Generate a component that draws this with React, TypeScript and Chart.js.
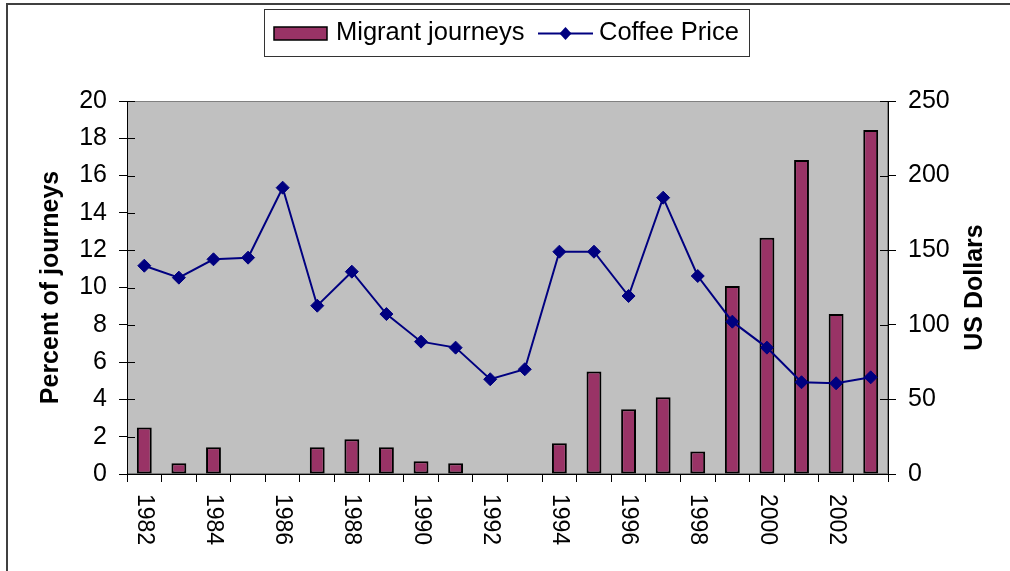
import React, { useEffect, useRef } from "react";
import { Chart, registerables } from "chart.js";

Chart.register(...registerables);

const years = ["1982","1983","1984","1985","1986","1987","1988","1989","1990","1991","1992","1993","1994","1995","1996","1997","1998","1999","2000","2001","2002","2003"];
const xTickLabels = ["1982","","1984","","1986","","1988","","1990","","1992","","1994","","1996","","1998","","2000","","2002",""];
const migrantJourneys = [2.5,0.57,1.43,null,null,1.43,1.86,1.43,0.68,0.57,null,null,1.65,5.49,3.47,4.11,1.2,10.08,12.67,16.84,8.58,18.45];
const coffeePrice = [139.6,131.6,143.9,145,191.9,112.8,135.6,107.2,88.7,84.7,63.5,70.2,149,149,119.3,185.2,132.7,102.1,84.7,61.5,60.8,64.8];
const leftTitle = "Percent of journeys";
const rightTitle = "US Dollars";

const FONT = "'Liberation Sans', Arial, Helvetica, sans-serif";
const BAR_COLOR = "#993366";
const LINE_COLOR = "#000080";

const decorPlugin = {
  id: "decor",
  beforeDraw(chart: any) {
    const { ctx, chartArea } = chart;
    const { left, top, right, bottom } = chartArea;
    ctx.save();
    ctx.strokeStyle = "#404040";
    ctx.lineWidth = 2;
    ctx.beginPath();
    ctx.moveTo(7, 700);
    ctx.lineTo(7, 4);
    ctx.lineTo(1100, 4);
    ctx.stroke();
    ctx.fillStyle = "#C0C0C0";
    ctx.fillRect(left, top, right - left, bottom - top);
    ctx.strokeStyle = "#808080";
    ctx.lineWidth = 1;
    ctx.strokeRect(left + 0.5, top + 0.5, right - left - 1, bottom - top - 1);
    ctx.restore();
  },
  beforeDatasetsDraw(chart: any) {
    const { ctx, scales } = chart;
    ctx.save();
    ctx.strokeStyle = "#000";
    ctx.lineWidth = 1;
    const ys = scales.y;
    ys.ticks.forEach((t: any) => {
      const py = Math.round(ys.getPixelForValue(t.value)) + 0.5;
      ctx.beginPath();
      ctx.moveTo(ys.right, py);
      ctx.lineTo(ys.right + 8, py);
      ctx.stroke();
    });
    const y1 = scales.y1;
    y1.ticks.forEach((t: any) => {
      const py = Math.round(y1.getPixelForValue(t.value)) + 0.5;
      ctx.beginPath();
      ctx.moveTo(y1.left - 8, py);
      ctx.lineTo(y1.left, py);
      ctx.stroke();
    });
    ctx.restore();
  },
  afterDraw(chart: any) {
    const { ctx, scales, chartArea } = chart;
    ctx.save();
    const xs = scales.x;
    ctx.fillStyle = "#000";
    ctx.font = `23px ${FONT}`;
    ctx.textAlign = "left";
    ctx.textBaseline = "middle";
    xTickLabels.forEach((lab, i) => {
      if (!lab) return;
      const px = xs.getPixelForValue(i);
      ctx.save();
      ctx.translate(px, chartArea.bottom + 20);
      ctx.rotate(Math.PI / 2);
      ctx.fillText(lab, 0, 0);
      ctx.restore();
    });
    const cy = (chartArea.top + chartArea.bottom) / 2;
    ctx.font = `bold 25px ${FONT}`;
    ctx.textAlign = "center";
    ctx.textBaseline = "middle";
    ctx.save();
    ctx.translate(51, cy);
    ctx.rotate(-Math.PI / 2);
    ctx.fillText(leftTitle, 0, 0);
    ctx.restore();
    ctx.save();
    ctx.translate(975, cy);
    ctx.rotate(-Math.PI / 2);
    ctx.fillText(rightTitle, 0, 0);
    ctx.restore();
    const ds = chart.data.datasets;
    ctx.strokeStyle = "#333";
    ctx.lineWidth = 1;
    ctx.strokeRect(264.5, 9.5, 485, 47);
    ctx.fillStyle = BAR_COLOR;
    ctx.fillRect(274, 27, 53, 13);
    ctx.strokeStyle = "#000";
    ctx.lineWidth = 1.5;
    ctx.strokeRect(274, 27, 53, 13);
    ctx.fillStyle = "#000";
    ctx.font = `25.5px ${FONT}`;
    ctx.textAlign = "left";
    ctx.textBaseline = "middle";
    ctx.fillText(ds[0].label, 336, 33);
    ctx.strokeStyle = LINE_COLOR;
    ctx.lineWidth = 2;
    ctx.beginPath();
    ctx.moveTo(538, 33.5);
    ctx.lineTo(593, 33.5);
    ctx.stroke();
    ctx.fillStyle = LINE_COLOR;
    ctx.beginPath();
    ctx.moveTo(565.5, 27);
    ctx.lineTo(571.5, 33.5);
    ctx.lineTo(565.5, 40);
    ctx.lineTo(559.5, 33.5);
    ctx.closePath();
    ctx.fill();
    ctx.fillStyle = "#000";
    ctx.fillText(ds[1].label, 599, 33);
    ctx.restore();
  },
};

export default function App() {
  const ref = useRef<HTMLCanvasElement | null>(null);
  useEffect(() => {
    if (!ref.current) return;
    Chart.defaults.font.family = FONT;
    const chart = new Chart(ref.current, {
      type: "bar",
      data: {
        labels: years,
        datasets: [
          {
            type: "bar",
            label: "Migrant journeys",
            data: migrantJourneys as any,
            backgroundColor: BAR_COLOR,
            borderColor: "#000",
            borderWidth: 2,
            borderSkipped: false,
            categoryPercentage: 1,
            barPercentage: 0.43,
            yAxisID: "y",
            order: 2,
          },
          {
            type: "line",
            label: "Coffee Price",
            data: coffeePrice,
            borderColor: LINE_COLOR,
            backgroundColor: LINE_COLOR,
            borderWidth: 2,
            pointStyle: "rectRot",
            pointRadius: 6.5,
            pointBorderWidth: 1,
            pointBackgroundColor: LINE_COLOR,
            pointBorderColor: LINE_COLOR,
            tension: 0,
            yAxisID: "y1",
            order: 1,
          } as any,
        ],
      },
      options: {
        animation: false,
        responsive: false,
        layout: { padding: { top: 101, left: 0, right: 0, bottom: 0 } },
        plugins: {
          legend: { display: false },
          tooltip: { enabled: false },
        },
        scales: {
          x: {
            type: "category",
            offset: true,
            grid: {
              offset: true,
              display: true,
              drawOnChartArea: false,
              drawTicks: true,
              tickLength: 8,
              color: "#000",
            },
            border: { display: true, color: "#000", width: 1 },
            ticks: { display: false },
            afterFit: (s: any) => {
              s.height = 97;
            },
          },
          y: {
            position: "left",
            min: 0,
            max: 20,
            ticks: {
              stepSize: 2,
              color: "#000",
              font: { size: 25, family: FONT },
              padding: 12,
            },
            grid: {
              drawOnChartArea: false,
              drawTicks: true,
              tickLength: 8,
              color: "#000",
            },
            border: { display: true, color: "#000", width: 1 },
            afterFit: (s: any) => {
              s.width = 127;
            },
          },
          y1: {
            position: "right",
            min: 0,
            max: 250,
            ticks: {
              stepSize: 50,
              color: "#000",
              font: { size: 25, family: FONT },
              padding: 12,
            },
            grid: {
              drawOnChartArea: false,
              drawTicks: true,
              tickLength: 8,
              color: "#000",
            },
            border: { display: true, color: "#000", width: 1 },
            afterFit: (s: any) => {
              s.width = 122;
            },
          },
        },
      },
      plugins: [decorPlugin],
    });
    return () => chart.destroy();
  }, []);
  return (
    <div style={{ position: "absolute", left: 0, top: 0, width: 1010, height: 571, background: "#fff" }}>
      <canvas ref={ref} width={1010} height={571} style={{ display: "block" }} />
    </div>
  );
}
